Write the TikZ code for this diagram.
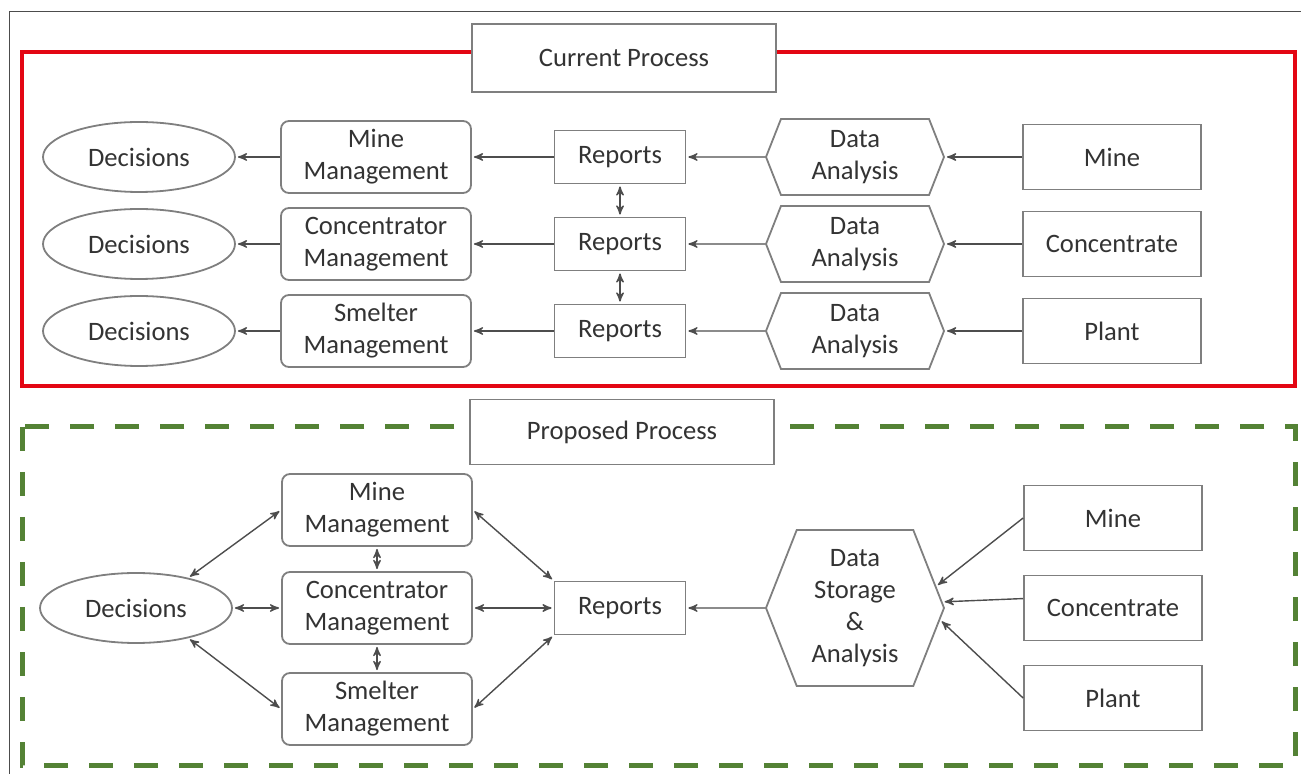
\documentclass[tikz,border=0pt]{standalone}
\usepackage{fontspec}
\setmainfont{Carlito}
\usepackage{tikz}
\usetikzlibrary{arrows,shapes.geometric,shapes.symbols}

\definecolor{txtgray}{HTML}{333333}
\definecolor{linegray}{HTML}{7F7F7F}
\definecolor{arrgray}{HTML}{4D4D4D}
\definecolor{curred}{HTML}{E30613}
\definecolor{propgreen}{HTML}{548235}

\begin{document}
\begin{tikzpicture}[x=0.5pt,y=-0.5pt,>=stealth',node distance=120pt,
        every node/.style={text=txtgray,font=\fontsize{13.3}{16}\selectfont,align=center},
        every edge/.style={draw=arrgray,line width=0.7pt},
        dec/.style={ellipse,draw=linegray,line width=0.9pt,minimum width=96pt,minimum height=35pt,inner sep=0pt},
        mgmt/.style={rectangle,rounded corners=4pt,draw=linegray,line width=0.9pt,minimum width=95pt,minimum height=36pt,inner sep=1pt},
        rep/.style={rectangle,draw=linegray,line width=0.9pt,minimum width=65.5pt,minimum height=26.5pt},
        ana/.style={signal,signal to=west and east,signal pointer angle=137,draw=linegray,line width=0.9pt,minimum width=89pt,minimum height=38pt,inner sep=1pt},
        src/.style={rectangle,draw=linegray,line width=0.9pt,minimum width=89pt,minimum height=32.5pt},
        title/.style={rectangle,draw=linegray,line width=0.9pt,fill=white,minimum width=152pt,minimum height=34pt}]

  \useasboundingbox (0,0) rectangle (1301,774);
  \draw[black!70,line width=0.5pt] (1301,12) -- (9,12) -- (9,774);

  % current process
  \draw[curred,line width=2pt] (22,52) rectangle (1295,386);
  \node[title] (cur) at (624,58) {Current Process};

  \node[src] (mine1) at (1112,157) {Mine};
  \node[ana,node distance=128.5pt] (da1) [left of=mine1] {Data\\Analysis};
  \node[rep,node distance=117.5pt] (rep1) [left of=da1] {Reports};
  \node[mgmt,node distance=122pt] (mm1) [left of=rep1] {Mine\\Management};
  \node[dec,node distance=118.5pt] (dec1) [left of=mm1] {Decisions};

  \node[src,node distance=43.5pt] (con1) [below of=mine1] {Concentrate};
  \node[ana,node distance=43.5pt] (da2) [below of=da1] {Data\\Analysis};
  \node[rep,node distance=43.5pt] (rep2) [below of=rep1] {Reports};
  \node[mgmt,node distance=43.5pt] (cm1) [below of=mm1] {Concentrator\\Management};
  \node[dec,node distance=43.5pt] (dec2) [below of=dec1] {Decisions};

  \node[src,node distance=43.5pt] (plant1) [below of=con1] {Plant};
  \node[ana,node distance=43.5pt] (da3) [below of=da2] {Data\\Analysis};
  \node[rep,node distance=43.5pt] (rep3) [below of=rep2] {Reports};
  \node[mgmt,node distance=43.5pt] (sm1) [below of=cm1] {Smelter\\Management};
  \node[dec,node distance=43.5pt] (dec3) [below of=dec2] {Decisions};

  \path[->,shorten >=1pt]
        (mine1) edge (da1)  (da1) edge (rep1)  (rep1) edge (mm1)  (mm1) edge (dec1)
        (con1) edge (da2)   (da2) edge (rep2)  (rep2) edge (cm1)  (cm1) edge (dec2)
        (plant1) edge (da3) (da3) edge (rep3)  (rep3) edge (sm1)  (sm1) edge (dec3);
  \path[<->,shorten >=1pt,shorten <=1pt]
        (rep1) edge (rep2)
        (rep2) edge (rep3);

  % proposed process
  \draw[propgreen,line width=2.5pt,dash pattern=on 12pt off 10.5pt] (22,427) rectangle (1295,765);
  \node[title,minimum height=32.5pt] (prop) at (622,432) {Proposed Process};

  \node[ana,minimum height=78pt] (dsa) at (855,608) {Data\\Storage\\\&\\Analysis};
  \node[rep,node distance=117.5pt] (rep) [left of=dsa] {Reports};
  \node[mgmt,node distance=121.5pt] (cm2) [left of=rep] {Concentrator\\Management};
  \node[mgmt,node distance=49pt] (mm2) [above of=cm2] {Mine\\Management};
  \node[mgmt,node distance=50.5pt] (sm2) [below of=cm2] {Smelter\\Management};
  \node[dec,node distance=120.5pt] (dec) [left of=cm2] {Decisions};

  \node[src,node distance=129pt] (con2) [right of=dsa] {Concentrate};
  \node[src,node distance=45pt] (mine2) [above of=con2] {Mine};
  \node[src,node distance=45pt] (plant2) [below of=con2] {Plant};

  \path[->,shorten >=1pt]
        (mine2.west) edge (dsa.15)
        (con2.174) edge (dsa.4)
        (plant2.west) edge (dsa.-8)
        (dsa) edge (rep);
  \path[<->,shorten >=1pt,shorten <=1pt]
        (dec.30) edge (mm2.west)
        (dec) edge (cm2)
        (dec.-30) edge (sm2.west)
        (mm2) edge (cm2)
        (cm2) edge (sm2)
        (mm2.east) edge (rep.north west)
        (cm2) edge (rep)
        (sm2.east) edge (rep.south west);

\end{tikzpicture}
\end{document}
